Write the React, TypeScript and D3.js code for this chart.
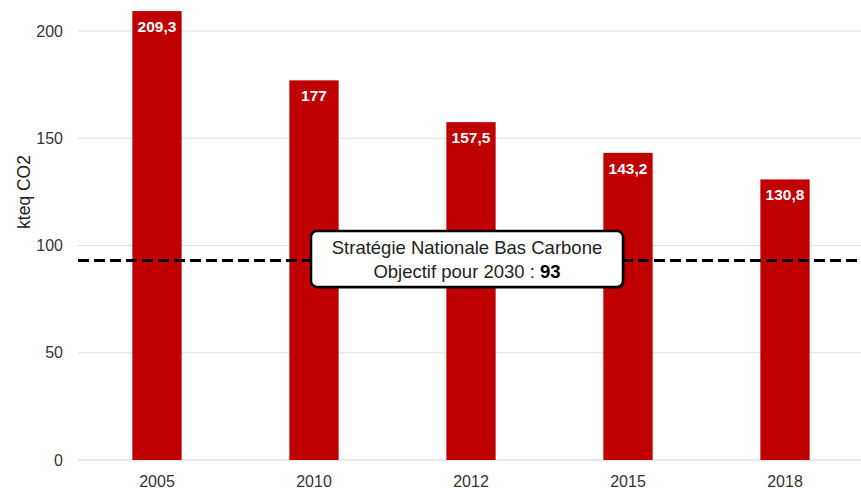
import React from "react";
import * as d3 from "d3";

const categories = ["2005", "2010", "2012", "2015", "2018"];
const values = [209.3, 177, 157.5, 143.2, 130.8];
const valueLabels = ["209,3", "177", "157,5", "143,2", "130,8"];
const yTicks = [0, 50, 100, 150, 200];
const targetValue = 93;
const targetLine1 = "Stratégie Nationale Bas Carbone";
const targetLine2 = "Objectif pour 2030 : ";
const yLabel = "kteq CO2";

export default function App() {
  const W = 861, H = 489;
  const left = 78.5, right = 863.5, bottom = 460;
  const x = d3.scaleBand<string>().domain(categories).range([left, right]).paddingInner(0.686).paddingOuter(0.343);
  const y = d3.scaleLinear().domain([0, 200]).range([bottom, 31]);
  const font = "Arial, 'Liberation Sans', sans-serif";
  const ty = y(targetValue);
  const boxX = 311, boxW = 312, boxY = 231, boxH = 56;
  return (
    <svg width={W} height={H} style={{ position: "absolute", left: 0, top: 0 }} fontFamily={font}>
      <rect width={W} height={H} fill="#fff" />
      {yTicks.map((t) => (
        <g key={t}>
          <line x1={78} x2={861} y1={y(t)} y2={y(t)} stroke="#e0e0e0" strokeWidth={t === 0 ? 1.5 : 1} />
          <text x={63} y={y(t)} dy="0.35em" textAnchor="end" fontSize={16} fill="#333">{t}</text>
        </g>
      ))}
      <text transform={`translate(30,192) rotate(-90)`} textAnchor="middle" fontSize={17.5} fill="#222">{yLabel}</text>
      {categories.map((c, i) => (
        <g key={c}>
          <rect x={x(c)} y={y(values[i])} width={x.bandwidth()} height={bottom - y(values[i])} fill="#c00000" />
          <text x={x(c)! + x.bandwidth() / 2} y={y(values[i]) + 21} textAnchor="middle" fontSize={15.5} fontWeight="bold" fill="#fff">{valueLabels[i]}</text>
          <text x={x(c)! + x.bandwidth() / 2} y={487} textAnchor="middle" fontSize={16} fill="#333">{c}</text>
        </g>
      ))}
      <line x1={78} x2={861} y1={ty} y2={ty} stroke="#000" strokeWidth={3} strokeDasharray="11,5" />
      <rect x={boxX + 1.5} y={boxY + 1.5} width={boxW} height={boxH} rx={6} fill="#000" opacity={0.6} />
      <rect x={boxX} y={boxY} width={boxW} height={boxH} rx={6} fill="#fff" stroke="#000" strokeWidth={2.5} />
      <text x={boxX + boxW / 2} y={boxY + 23} textAnchor="middle" fontSize={18.5} fill="#222">{targetLine1}</text>
      <text x={boxX + boxW / 2} y={boxY + 47} textAnchor="middle" fontSize={18.5} fill="#222">
        {targetLine2}<tspan fontWeight="bold" fill="#000">{targetValue}</tspan>
      </text>
    </svg>
  );
}
